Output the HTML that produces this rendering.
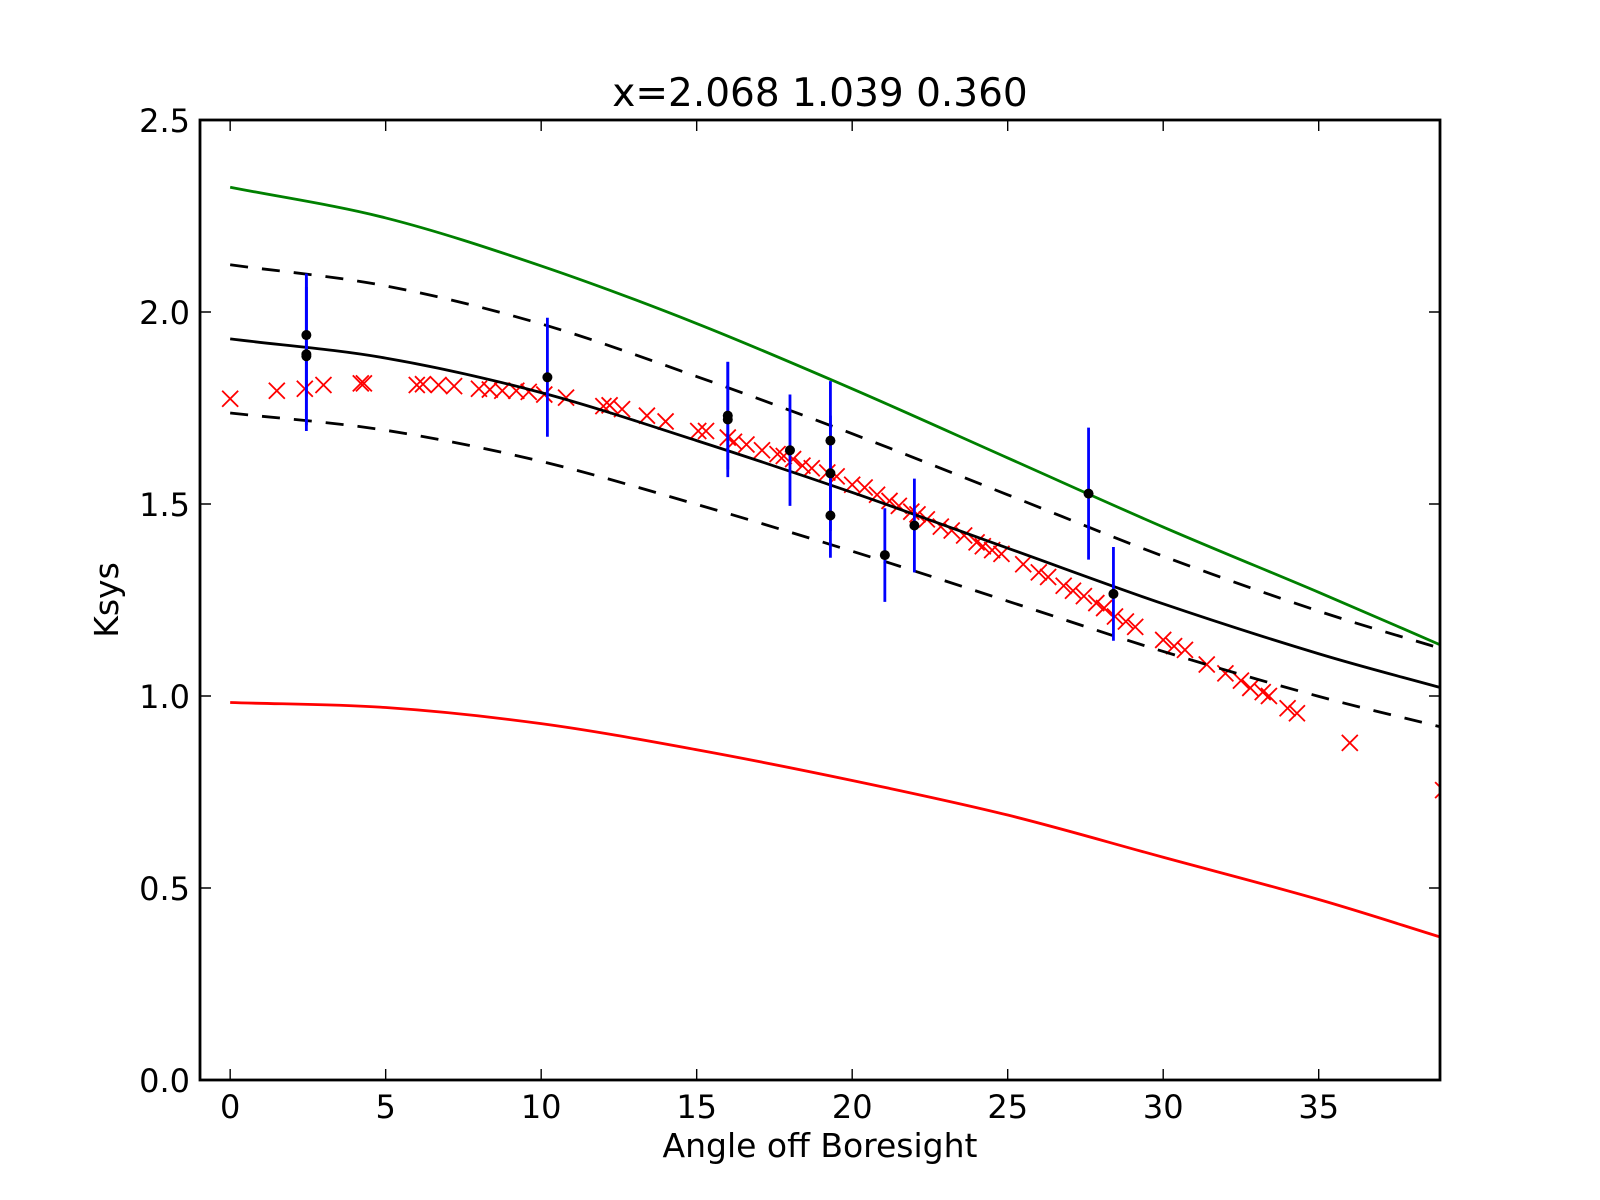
<!DOCTYPE html>
<html><head><meta charset="utf-8"><style>
body{margin:0;background:#fff;}
svg{display:block;font-family:"DejaVu Sans","Liberation Sans",sans-serif;}
</style></head><body>
<svg id="chart" width="1600" height="1200" viewBox="0 0 1600 1200" xmlns="http://www.w3.org/2000/svg">
<rect width="1600" height="1200" fill="#fff"/>
<g id="marks"></g>
<text x="820" y="106" font-size="39" text-anchor="middle">x=2.068 1.039 0.360</text>
<text x="820" y="1157" font-size="33" text-anchor="middle">Angle off Boresight</text>
<text x="0" y="0" font-size="33" text-anchor="middle" transform="translate(118,600) rotate(-90)">Ksys</text>
</svg>
<script>
const curveX = [0,5,10,15,20,25,30,35,39];
const greenY = [2.325,2.245,2.12,1.97,1.80,1.62,1.44,1.27,1.13];
const fitY = [1.93,1.88,1.79,1.665,1.53,1.385,1.24,1.11,1.02];
const upperY = [2.123,2.068,1.969,1.832,1.683,1.524,1.364,1.221,1.122];
const lowerY = [1.737,1.692,1.611,1.499,1.377,1.247,1.116,0.999,0.918];
const redCurveY = [0.983,0.97,0.928,0.86,0.78,0.69,0.58,0.47,0.37];
const errX = [2.45,2.45,2.45,10.2,16,16,18,19.3,19.3,19.3,21.05,22,27.6,28.4];
const errY = [1.89,1.94,1.885,1.83,1.72,1.73,1.64,1.665,1.58,1.47,1.367,1.444,1.527,1.266];
const errE = [0.2,0.16,0.18,0.155,0.15,0.14,0.145,0.155,0.15,0.11,0.122,0.122,0.172,0.122];
const scatX = [0,1.5,2.4,3.0,4.2,4.3,6.0,6.2,6.7,7.2,8.0,8.35,8.75,9.2,9.6,10.1,10.8,12.0,12.2,12.6,13.4,14.0,15.05,15.3,16.0,16.2,16.6,17.1,17.6,17.8,18.1,18.4,18.7,19.2,19.5,20.0,20.4,20.8,21.2,21.5,21.9,22.1,22.4,22.85,23.2,23.6,24.0,24.2,24.5,24.8,25.5,26.0,26.3,26.8,27.1,27.45,27.85,28.1,28.45,28.8,29.1,30.0,30.35,30.7,31.4,32.0,32.5,32.8,33.2,33.4,34.0,34.3,36.0,39.0];
const scatY = [1.774,1.795,1.80,1.81,1.814,1.814,1.81,1.812,1.81,1.807,1.80,1.798,1.795,1.795,1.792,1.785,1.777,1.755,1.757,1.747,1.73,1.715,1.69,1.69,1.673,1.662,1.655,1.64,1.63,1.625,1.617,1.60,1.593,1.582,1.572,1.55,1.543,1.524,1.508,1.495,1.48,1.473,1.46,1.441,1.431,1.418,1.40,1.39,1.38,1.37,1.343,1.322,1.31,1.287,1.274,1.26,1.242,1.229,1.207,1.194,1.18,1.146,1.13,1.12,1.082,1.059,1.04,1.021,1.01,1.0,0.968,0.955,0.878,0.755];
const xTicks = [0,5,10,15,20,25,30,35];
const yTicks = [0.0,0.5,1.0,1.5,2.0,2.5];
const xTickLabels = ["0","5","10","15","20","25","30","35"];
const yTickLabels = ["0.0","0.5","1.0","1.5","2.0","2.5"];

const L=200,R=1440,T=120,B=1080,XMIN=-0.97,XMAX=38.9,YMIN=0,YMAX=2.5;
const sx=v=>L+(v-XMIN)/(XMAX-XMIN)*(R-L);
const sy=v=>B-(v-YMIN)/(YMAX-YMIN)*(B-T);
const NS="http://www.w3.org/2000/svg";
const g=document.getElementById('marks');
function mk(tag,attrs,parent){const e=document.createElementNS(NS,tag);for(const k in attrs)e.setAttribute(k,attrs[k]);(parent||g).appendChild(e);return e;}

const defs=mk('defs',{});
const cp=mk('clipPath',{id:'clip'},defs);
mk('rect',{x:L,y:T,width:R-L,height:B-T},cp);
const plot=mk('g',{'clip-path':'url(#clip)'});



function smoothPath(xs,ys){
  const P=xs.map((x,i)=>[sx(x),sy(ys[i])]);
  const n=P.length;
  const get=i=>{
    if(i<0)return [2*P[0][0]-P[1][0],2*P[0][1]-P[1][1]];
    if(i>=n)return [2*P[n-1][0]-P[n-2][0],2*P[n-1][1]-P[n-2][1]];
    return P[i];
  };
  let d=`M${P[0][0]},${P[0][1]}`;
  for(let i=0;i<n-1;i++){
    const p0=get(i-1),p1=P[i],p2=P[i+1],p3=get(i+2);
    const c1=[p1[0]+(p2[0]-p0[0])/6,p1[1]+(p2[1]-p0[1])/6];
    const c2=[p2[0]-(p3[0]-p1[0])/6,p2[1]-(p3[1]-p1[1])/6];
    d+=` C${c1[0]},${c1[1]} ${c2[0]},${c2[1]} ${p2[0]},${p2[1]}`;
  }
  return d;
}

const sg=mk('g',{},plot);


scatX.forEach((x,i)=>{
  const cx=sx(x),cy=sy(scatY[i]),h=8;
  const p=mk('path',{d:`M${cx-h},${cy-h}L${cx+h},${cy+h}M${cx-h},${cy+h}L${cx+h},${cy-h}`,stroke:'#ff0000','stroke-width':1.8,fill:'none'},sg);
  
  
});

const curves=[[greenY,'#008000',null,'green-curve'],[fitY,'#000',null,'fit-curve'],[upperY,'#000','18,14','upper-bound-curve'],[lowerY,'#000','18,14','lower-bound-curve'],[redCurveY,'#ff0000',null,'red-curve']];
curves.forEach(c=>{
  const a={d:smoothPath(curveX,c[0]),stroke:c[1],'stroke-width':2.8,fill:'none'};
  if(c[2])a['stroke-dasharray']=c[2];
  const p=mk('path',a,plot);
  
  
});

const eg=mk('g',{},plot);


errX.forEach((x,i)=>{
  const l=mk('line',{x1:sx(x),x2:sx(x),y1:sy(errY[i]-errE[i]),y2:sy(errY[i]+errE[i]),stroke:'#0000ff','stroke-width':2.8},eg);
  
  
});
errX.forEach((x,i)=>{
  const c=mk('circle',{cx:sx(x),cy:sy(errY[i]),r:5,fill:'#000'},eg);
  
  
});

const fr=mk('rect',{x:L,y:T,width:R-L,height:B-T,fill:'none',stroke:'#000','stroke-width':2.8});



xTicks.forEach((v,i)=>{
  const x=sx(v);
  const t=mk('path',{d:`M${x},${B}v-11M${x},${T}v11`,stroke:'#000','stroke-width':1.4});
  
  
  const tx=mk('text',{x:x,y:1118,'font-size':32,'text-anchor':'middle'});
  tx.textContent=xTickLabels[i];
  
  
});
yTicks.forEach((v,i)=>{
  const y=sy(v);
  const t=mk('path',{d:`M${L},${y}h11M${R},${y}h-11`,stroke:'#000','stroke-width':1.4});
  
  
  const tx=mk('text',{x:190,y:y+12,'font-size':32,'text-anchor':'end'});
  tx.textContent=yTickLabels[i];
  
  
});
</script>
</body></html>
